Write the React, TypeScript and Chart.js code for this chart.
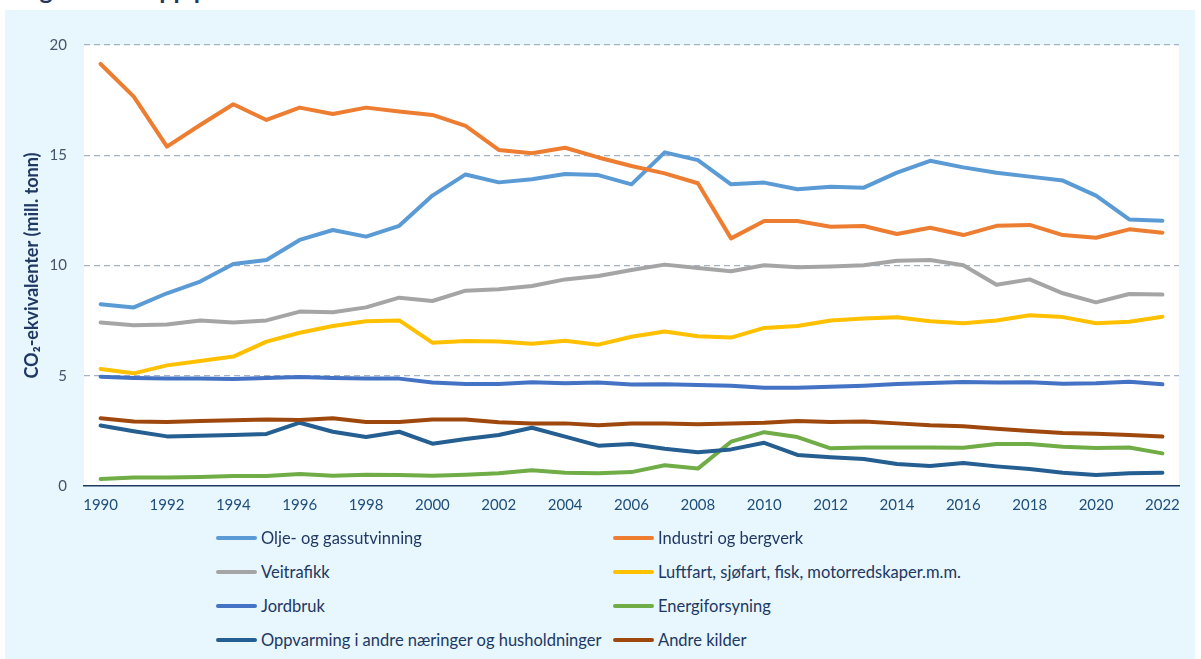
import React, { useEffect, useRef } from "react";
import { Chart, registerables } from "chart.js";

Chart.register(...registerables);

const years = ["1990","1991","1992","1993","1994","1995","1996","1997","1998","1999","2000","2001","2002","2003","2004","2005","2006","2007","2008","2009","2010","2011","2012","2013","2014","2015","2016","2017","2018","2019","2020","2021","2022"];

const olje = [8.24, 8.10, 8.74, 9.27, 10.07, 10.25, 11.16, 11.61, 11.31, 11.80, 13.17, 14.13, 13.77, 13.91, 14.15, 14.10, 13.68, 15.13, 14.78, 13.68, 13.76, 13.46, 13.57, 13.53, 14.21, 14.75, 14.45, 14.21, 14.03, 13.85, 13.17, 12.09, 12.03];
const industri = [19.14, 17.66, 15.39, 16.37, 17.31, 16.60, 17.16, 16.87, 17.16, 16.98, 16.83, 16.33, 15.24, 15.09, 15.34, 14.90, 14.51, 14.18, 13.73, 11.23, 12.02, 12.02, 11.76, 11.79, 11.43, 11.71, 11.38, 11.80, 11.84, 11.38, 11.26, 11.64, 11.49];
const veitrafikk = [7.42, 7.29, 7.32, 7.51, 7.41, 7.51, 7.91, 7.88, 8.10, 8.54, 8.39, 8.86, 8.92, 9.07, 9.37, 9.52, 9.80, 10.04, 9.89, 9.74, 10.01, 9.92, 9.95, 10.01, 10.22, 10.25, 10.01, 9.13, 9.37, 8.74, 8.33, 8.71, 8.68];
const luftfart = [5.31, 5.11, 5.47, 5.67, 5.87, 6.55, 6.95, 7.26, 7.47, 7.51, 6.50, 6.58, 6.55, 6.45, 6.59, 6.41, 6.77, 7.01, 6.79, 6.73, 7.17, 7.26, 7.51, 7.60, 7.65, 7.47, 7.38, 7.51, 7.74, 7.66, 7.38, 7.45, 7.68];
const jordbruk = [4.96, 4.90, 4.87, 4.87, 4.85, 4.90, 4.94, 4.90, 4.88, 4.87, 4.69, 4.63, 4.63, 4.70, 4.66, 4.69, 4.60, 4.61, 4.58, 4.55, 4.46, 4.46, 4.50, 4.55, 4.63, 4.67, 4.72, 4.69, 4.70, 4.64, 4.66, 4.73, 4.61];
const energi = [0.32, 0.38, 0.38, 0.41, 0.45, 0.45, 0.54, 0.47, 0.51, 0.50, 0.47, 0.51, 0.58, 0.71, 0.60, 0.58, 0.63, 0.94, 0.79, 2.01, 2.44, 2.22, 1.71, 1.75, 1.75, 1.75, 1.73, 1.90, 1.90, 1.78, 1.72, 1.75, 1.48];
const oppvarming = [2.74, 2.48, 2.25, 2.28, 2.31, 2.36, 2.87, 2.46, 2.22, 2.46, 1.92, 2.13, 2.31, 2.64, 2.24, 1.83, 1.90, 1.69, 1.53, 1.66, 1.96, 1.41, 1.30, 1.22, 1.00, 0.91, 1.04, 0.89, 0.77, 0.60, 0.50, 0.58, 0.60];
const andre = [3.07, 2.93, 2.90, 2.95, 2.98, 3.02, 2.99, 3.07, 2.90, 2.90, 3.02, 3.02, 2.89, 2.84, 2.84, 2.75, 2.83, 2.83, 2.80, 2.83, 2.87, 2.95, 2.90, 2.93, 2.84, 2.75, 2.71, 2.60, 2.49, 2.40, 2.37, 2.31, 2.24];

const seriesNames = ["Olje- og gassutvinning", "Industri og bergverk", "Veitrafikk", "Luftfart, sjøfart, fisk, motorredskaper.m.m.", "Jordbruk", "Energiforsyning", "Oppvarming i andre næringer og husholdninger", "Andre kilder"];
const seriesData = [olje, industri, veitrafikk, luftfart, jordbruk, energi, oppvarming, andre];
const seriesColors = ["#5B9BD5", "#ED7D31", "#A5A5A5", "#FFC000", "#4472C4", "#70AD47", "#255E91", "#9E480E"];

const yTitle = "CO₂-ekvivalenter (mill. tonn)";
const titleText = "Figur 2. Utslipp per kilde";

const FONT = "Lato, 'Open Sans', 'DejaVu Sans', sans-serif";
const BG = "#E8F6FD";

export default function App() {
  const ref = useRef<HTMLCanvasElement | null>(null);

  useEffect(() => {
    document.body.style.margin = "0";
    const canvas = ref.current;
    if (!canvas) return;
    const whiteArea = {
      id: "whiteArea",
      beforeDraw(chart: any) {
        const { ctx, chartArea } = chart;
        ctx.save();
        ctx.fillStyle = "#FFFFFF";
        ctx.fillRect(chartArea.left, chartArea.top, chartArea.right - chartArea.left, chartArea.bottom - chartArea.top);
        ctx.restore();
      },
    };
    const n = seriesData.length;
    const chart = new Chart(canvas, {
      type: "line",
      data: {
        labels: years,
        datasets: seriesData.map((d, i) => ({
          label: seriesNames[i],
          data: d,
          borderColor: seriesColors[i],
          backgroundColor: seriesColors[i],
          borderWidth: 4,
          pointRadius: 0,
          tension: 0,
          fill: false,
          borderCapStyle: "round" as const,
          borderJoinStyle: "round" as const,
          order: n - i,
        })),
      },
      options: {
        animation: false,
        responsive: false,
        devicePixelRatio: 1,
        layout: { padding: { top: 45, right: 22, bottom: 4, left: 0 } },
        plugins: { legend: { display: false }, tooltip: { enabled: false } },
        scales: {
          x: {
            type: "category",
            offset: true,
            grid: { display: false, drawTicks: false },
            border: { display: true, color: "#1F3864", width: 1.5 },
            ticks: {
              autoSkip: false,
              maxRotation: 0,
              padding: 10,
              color: "#1F4E79",
              font: { family: FONT, size: 15 },
              callback: (_v: any, idx: number) => (idx % 2 === 0 ? years[idx] : ""),
            },
            afterFit: (s: any) => { s.height = 40; },
          },
          y: {
            min: 0,
            max: 20,
            ticks: { stepSize: 5, padding: 17, color: "#44546A", font: { family: FONT, size: 15 } },
            grid: {
              drawTicks: false,
              lineWidth: 1.3,
              color: (c: any) => (c.tick && c.tick.value === 0 ? "rgba(0,0,0,0)" : "#A3B3C6"),
              borderDash: [6, 4],
            } as any,
            border: { display: false, dash: [6, 4] },
            title: {
              display: true,
              text: yTitle,
              color: "#1F3864",
              font: { family: FONT, size: 18, weight: "bold" },
              padding: { top: 21, bottom: 0 },
            },
            afterFit: (s: any) => { s.width = 84; },
          },
        },
      },
      plugins: [whiteArea],
    });
    return () => chart.destroy();
  }, []);

  return (
    <div style={{ position: "fixed", left: 0, top: 0, width: 1201, height: 659, overflow: "hidden", background: "#FFFFFF", fontFamily: FONT }}>
      <div style={{ position: "absolute", left: 19, top: -24, fontSize: 25, lineHeight: "26px", fontWeight: "bold", color: "#1F3864", whiteSpace: "nowrap" }}>{titleText}</div>
      <div style={{ position: "absolute", left: 5, top: 10, width: 1190, height: 660, background: BG }} />
      <canvas ref={ref} width={1201} height={530} style={{ position: "absolute", left: 0, top: 0, width: 1201, height: 530 }} />
      {seriesNames.map((name, i) => {
        const col = i % 2;
        const row = Math.floor(i / 2);
        const lx = col === 0 ? 216 : 613;
        const cy = 537.5 + row * 34;
        return (
          <div key={name} style={{ position: "absolute", left: lx, top: cy - 11, height: 22, display: "flex", alignItems: "center", whiteSpace: "nowrap" }}>
            <span style={{ display: "inline-block", width: 41, height: 4, borderRadius: 2, background: seriesColors[i], marginRight: 4 }} />
            <span style={{ fontSize: 16.5, color: "#203864", lineHeight: "22px" }}>{name}</span>
          </div>
        );
      })}
    </div>
  );
}
